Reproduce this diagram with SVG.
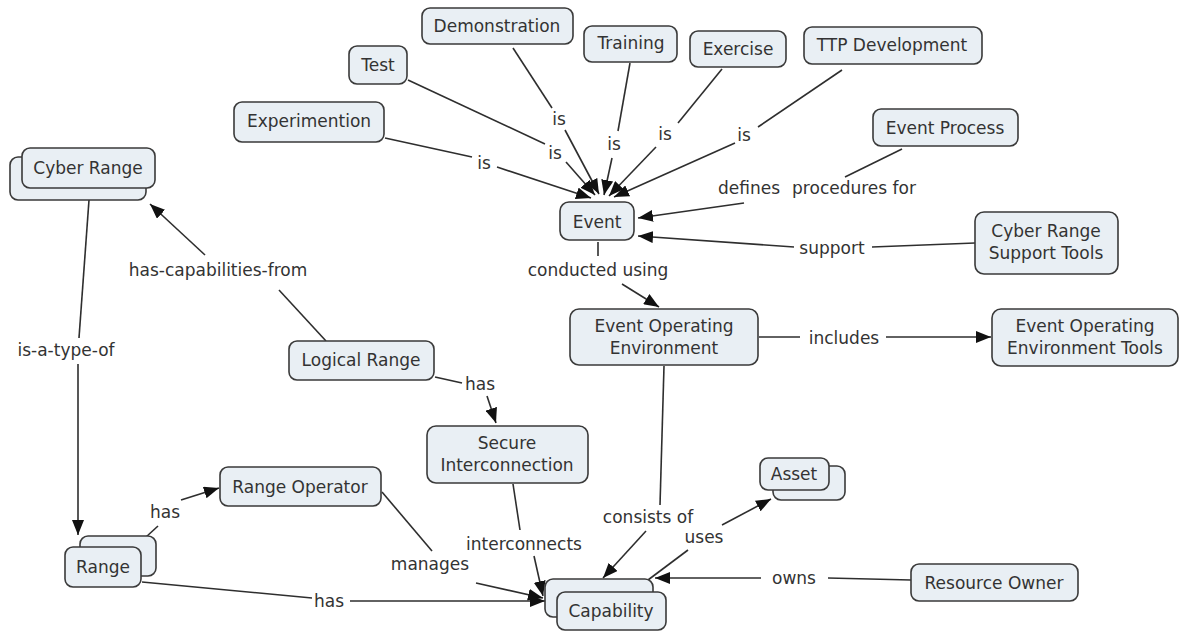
<svg xmlns="http://www.w3.org/2000/svg" width="1188" height="635" viewBox="0 0 1188 635">
  <style>
    .node rect { fill: #e9eff4; stroke: #3a3a3a; stroke-width: 1.6; }
    .node text, .lbl { font-family: "DejaVu Sans", Verdana, sans-serif; font-size: 17px; fill: #333; text-anchor: middle; }
    .edge { stroke: #2e2e2e; stroke-width: 1.6; fill: none; }
    .arr { marker-end: url(#head); }
  </style>
  <defs>
    <marker id="head" markerUnits="userSpaceOnUse" markerWidth="16" markerHeight="12" refX="15" refY="6" orient="auto">
      <path d="M0,0 L15,6 L0,12 Z" fill="#111"/>
    </marker>
  </defs>
  <rect width="1188" height="635" fill="#fff"/>

  <!-- connectors and linking phrases -->
  <g id="connectors">
    <!-- Experimention is Event -->
    <line class="edge" x1="385" y1="138" x2="472" y2="157"/>
    <line class="edge arr" x1="497" y1="167" x2="591" y2="198"/>
    <text class="lbl" x="484" y="169">is</text>
    <!-- Test is Event -->
    <line class="edge" x1="408" y1="80" x2="545" y2="144"/>
    <line class="edge arr" x1="566" y1="162" x2="595" y2="195"/>
    <text class="lbl" x="555" y="159">is</text>
    <!-- Demonstration is Event -->
    <line class="edge" x1="513" y1="48" x2="552" y2="108"/>
    <line class="edge arr" x1="565" y1="130" x2="599" y2="194"/>
    <text class="lbl" x="559" y="125">is</text>
    <!-- Training is Event -->
    <line class="edge" x1="630" y1="63" x2="618" y2="131"/>
    <line class="edge arr" x1="612" y1="158" x2="604" y2="195"/>
    <text class="lbl" x="614" y="150">is</text>
    <!-- Exercise is Event -->
    <line class="edge" x1="722" y1="69" x2="678" y2="123"/>
    <line class="edge arr" x1="656" y1="147" x2="609" y2="196"/>
    <text class="lbl" x="665" y="140">is</text>
    <!-- TTP Development is Event -->
    <line class="edge" x1="842" y1="70" x2="758" y2="127"/>
    <line class="edge arr" x1="735" y1="143" x2="614" y2="197"/>
    <text class="lbl" x="744" y="141">is</text>
    <!-- Event Process defines procedures for Event -->
    <line class="edge" x1="902" y1="149" x2="845" y2="177"/>
    <line class="edge arr" x1="744" y1="203" x2="638" y2="218"/>
    <text class="lbl" x="817" y="194"><tspan>defines</tspan><tspan dx="12">procedures for</tspan></text>
    <!-- Cyber Range Support Tools support Event -->
    <line class="edge" x1="975" y1="243" x2="872" y2="247"/>
    <line class="edge arr" x1="794" y1="247" x2="638" y2="236"/>
    <text class="lbl" x="832" y="254">support</text>
    <!-- Event conducted using Event Operating Environment -->
    <line class="edge" x1="598" y1="242" x2="598" y2="256"/>
    <line class="edge arr" x1="622" y1="284" x2="659" y2="307"/>
    <text class="lbl" x="598" y="276">conducted using</text>
    <!-- Event Operating Environment includes Event Operating Environment Tools -->
    <line class="edge" x1="759" y1="337" x2="800" y2="337"/>
    <line class="edge arr" x1="886" y1="337" x2="991" y2="337"/>
    <text class="lbl" x="844" y="344">includes</text>
    <!-- Event Operating Environment consists of Capability -->
    <line class="edge" x1="664" y1="366" x2="660" y2="505"/>
    <line class="edge arr" x1="646" y1="531" x2="603" y2="578"/>
    <text class="lbl" x="648" y="523">consists of</text>
    <!-- Capability uses Asset -->
    <line class="edge" x1="648" y1="580" x2="688" y2="550"/>
    <line class="edge arr" x1="722" y1="525" x2="771" y2="499"/>
    <text class="lbl" x="704" y="543">uses</text>
    <!-- Resource Owner owns Capability -->
    <line class="edge" x1="911" y1="580" x2="828" y2="578"/>
    <line class="edge arr" x1="761" y1="578" x2="655" y2="578"/>
    <text class="lbl" x="794" y="584">owns</text>
    <!-- Secure Interconnection interconnects Capability -->
    <line class="edge" x1="513" y1="484" x2="520" y2="530"/>
    <line class="edge arr" x1="534" y1="556" x2="543" y2="596"/>
    <text class="lbl" x="524" y="550">interconnects</text>
    <!-- Range Operator manages Capability -->
    <line class="edge" x1="382" y1="492" x2="432" y2="551"/>
    <line class="edge arr" x1="476" y1="583" x2="543" y2="598"/>
    <text class="lbl" x="430" y="570">manages</text>
    <!-- Range has Capability -->
    <line class="edge" x1="142" y1="582" x2="312" y2="598"/>
    <line class="edge arr" x1="350" y1="601" x2="545" y2="601"/>
    <text class="lbl" x="329" y="607">has</text>
    <!-- Range has Range Operator -->
    <line class="edge" x1="146" y1="537" x2="158" y2="526"/>
    <line class="edge arr" x1="181" y1="500" x2="219" y2="488"/>
    <text class="lbl" x="165" y="518">has</text>
    <!-- Cyber Range is-a-type-of Range -->
    <line class="edge" x1="89" y1="200" x2="79" y2="338"/>
    <line class="edge arr" x1="78" y1="364" x2="78" y2="535"/>
    <text class="lbl" x="66" y="356">is-a-type-of</text>
    <!-- Logical Range has-capabilities-from Cyber Range -->
    <line class="edge" x1="326" y1="341" x2="279" y2="290"/>
    <line class="edge arr" x1="205" y1="255" x2="150" y2="204"/>
    <text class="lbl" x="218" y="276">has-capabilities-from</text>
    <!-- Logical Range has Secure Interconnection -->
    <line class="edge" x1="435" y1="377" x2="462" y2="383"/>
    <line class="edge arr" x1="487" y1="396" x2="496" y2="423"/>
    <text class="lbl" x="480" y="390">has</text>
  </g>

  <!-- concepts -->
  <g id="n-test" class="node"><rect x="349" y="46" width="58" height="38" rx="8"/><text x="378" y="71">Test</text></g>
  <g id="n-demonstration" class="node"><rect x="422" y="8" width="151" height="36" rx="8"/><text x="497" y="32">Demonstration</text></g>
  <g id="n-training" class="node"><rect x="584" y="26" width="93" height="36" rx="8"/><text x="631" y="49">Training</text></g>
  <g id="n-exercise" class="node"><rect x="690" y="31" width="96" height="36" rx="8"/><text x="738" y="55">Exercise</text></g>
  <g id="n-ttp" class="node"><rect x="804" y="27" width="178" height="37" rx="8"/><text x="892" y="51">TTP Development</text></g>
  <g id="n-experimention" class="node"><rect x="234" y="102" width="150" height="40" rx="8"/><text x="309" y="127">Experimention</text></g>
  <g id="n-event-process" class="node"><rect x="873" y="109" width="145" height="37" rx="8"/><text x="945" y="134">Event Process</text></g>
  <g id="n-event" class="node"><rect x="560" y="202" width="74" height="38" rx="9"/><text x="597" y="228">Event</text></g>
  <g id="n-support-tools" class="node"><rect x="975" y="212" width="143" height="62" rx="9"/><text x="1046" y="237">Cyber Range</text><text x="1046" y="259">Support Tools</text></g>
  <g id="n-cyber-range" class="node">
    <rect x="10" y="157" width="136" height="43" rx="8"/>
    <rect x="22" y="148" width="133" height="40" rx="8"/>
    <text x="88" y="174">Cyber Range</text>
  </g>
  <g id="n-eoe" class="node"><rect x="570" y="309" width="188" height="56" rx="9"/><text x="664" y="332">Event Operating</text><text x="664" y="354">Environment</text></g>
  <g id="n-eoe-tools" class="node"><rect x="992" y="309" width="186" height="57" rx="9"/><text x="1085" y="332">Event Operating</text><text x="1085" y="354">Environment Tools</text></g>
  <g id="n-logical-range" class="node"><rect x="289" y="341" width="145" height="39" rx="8"/><text x="361" y="366">Logical Range</text></g>
  <g id="n-secure-interconnection" class="node"><rect x="427" y="426" width="161" height="57" rx="9"/><text x="507" y="449">Secure</text><text x="507" y="471">Interconnection</text></g>
  <g id="n-range-operator" class="node"><rect x="220" y="467" width="161" height="39" rx="8"/><text x="300" y="493">Range Operator</text></g>
  <g id="n-asset" class="node">
    <rect x="773" y="466" width="72" height="34" rx="8"/>
    <rect x="760" y="458" width="69" height="32" rx="8"/>
    <text x="794" y="480">Asset</text>
  </g>
  <g id="n-range" class="node">
    <rect x="80" y="536" width="76" height="40" rx="8"/>
    <rect x="65" y="547" width="76" height="40" rx="8"/>
    <text x="103" y="573">Range</text>
  </g>
  <g id="n-capability" class="node">
    <rect x="545" y="579" width="108" height="38" rx="8"/>
    <rect x="557" y="592" width="109" height="38" rx="8"/>
    <text x="611" y="617">Capability</text>
  </g>
  <g id="n-resource-owner" class="node"><rect x="911" y="564" width="167" height="37" rx="8"/><text x="994" y="589">Resource Owner</text></g>
</svg>
